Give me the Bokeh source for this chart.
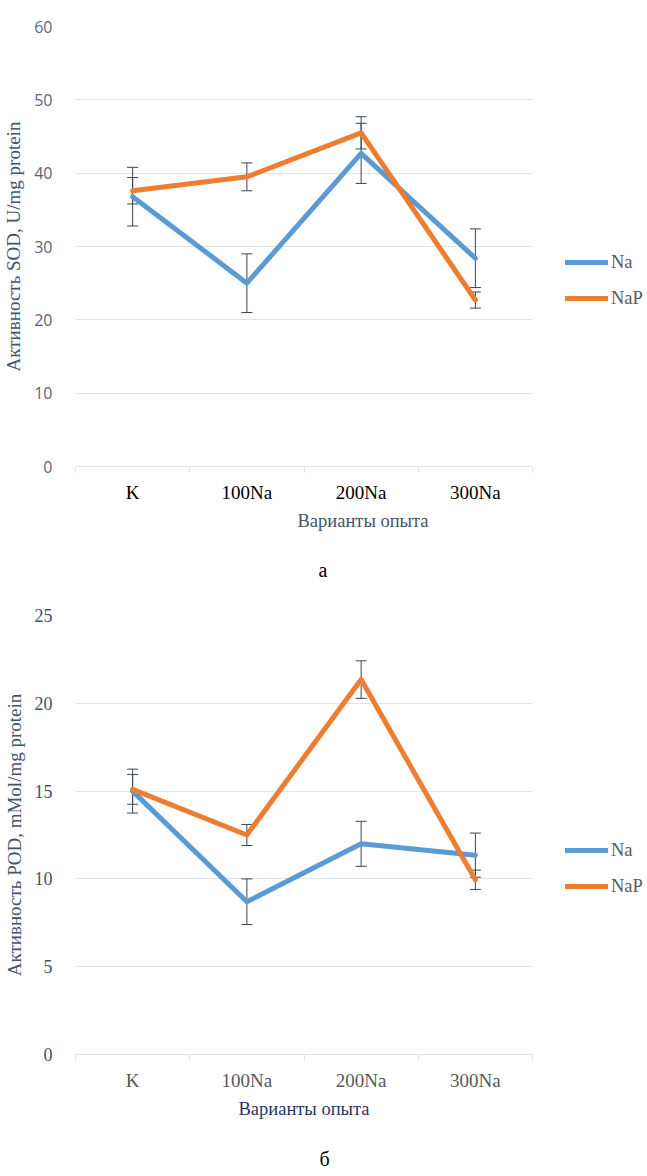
from bokeh.plotting import figure
from bokeh.models import (Range1d, FixedTicker, SingleIntervalTicker, CustomJSTickFormatter,
                          Whisker, TeeHead, ColumnDataSource, Legend, LegendItem, Title)
from bokeh.layouts import column
from bokeh.embed import file_html
from bokeh.resources import INLINE

# ---- data ----
categories = ["K", "100Na", "200Na", "300Na"]
series_names = ["Na", "NaP"]

sod_na = [36.8, 25.0, 42.7, 28.4]
sod_na_err = [4.0, 4.0, 4.1, 4.0]
sod_nap = [37.6, 39.5, 45.5, 22.7]
sod_nap_err = [1.8, 1.9, 2.2, 1.1]

pod_na = [15.0, 8.7, 12.0, 11.35]
pod_na_err = [1.25, 1.3, 1.28, 1.26]
pod_nap = [15.1, 12.5, 21.35, 9.95]
pod_nap_err = [0.85, 0.6, 1.07, 0.55]

x_title = "Варианты опыта"

SERIF = "Liberation Serif"
BLUE = "#5b9bd5"
ORANGE = "#ed7d31"
GRID = "#dfe5ef"
ERR = "#3a4658"


def make_chart(na, na_err, nap, nap_err, ymax, ystep, ylabel, caption, st):
    p = figure(frame_width=st["fw"], frame_height=st["fh"], x_range=Range1d(0, len(categories)),
               y_range=Range1d(0, ymax), output_backend="svg", toolbar_location=None,
               min_border_left=st["left"], min_border_right=st["right"],
               min_border_top=st["top"], min_border_bottom=st["bottom"],
               outline_line_color=None, background_fill_color="white")
    xs = [i + 0.5 for i in range(len(categories))]

    # axes
    xa = p.xaxis[0]
    xa.ticker = FixedTicker(ticks=xs, minor_ticks=list(range(len(categories) + 1)))
    xa.formatter = CustomJSTickFormatter(args=dict(cats=categories),
                                         code="const i = Math.floor(tick); return cats[i] || '';")
    xa.major_tick_in = 0
    xa.major_tick_out = 0
    xa.minor_tick_in = 0
    xa.minor_tick_out = 6
    xa.minor_tick_line_color = GRID
    xa.axis_line_color = GRID
    xa.major_label_text_font = SERIF
    xa.major_label_text_font_size = "19px"
    xa.major_label_text_color = st["xtick_color"]
    xa.major_label_standoff = 9
    if st["xtitle_offset"] is None:
        xa.axis_label = x_title
        xa.axis_label_text_font = SERIF
        xa.axis_label_text_font_size = "18.5px"
        xa.axis_label_text_font_style = "normal"
        xa.axis_label_text_color = st["xlabel_color"]
        xa.axis_label_standoff = 5
    else:
        p.add_layout(Title(text=x_title, align="left", offset=st["xtitle_offset"],
                           standoff=st["xtitle_standoff"], text_font=SERIF,
                           text_font_size="18.5px", text_font_style="normal",
                           text_color=st["xlabel_color"]), "below")

    ya = p.yaxis[0]
    ya.ticker = SingleIntervalTicker(interval=ystep)
    ya.axis_line_color = None
    ya.major_tick_line_color = None
    ya.minor_tick_line_color = None
    ya.major_label_text_font = st["ytick_font"]
    ya.major_label_text_font_size = st["ytick_size"]
    ya.major_label_text_color = st["ytick_color"]
    ya.major_label_standoff = 17
    ya.axis_label = ylabel
    ya.axis_label_text_font = SERIF
    ya.axis_label_text_font_size = "19px"
    ya.axis_label_text_font_style = "normal"
    ya.axis_label_text_color = "#44546a"
    ya.axis_label_standoff = 7

    p.xgrid.grid_line_color = None
    p.ygrid.ticker = SingleIntervalTicker(interval=ystep)
    p.ygrid.grid_line_color = GRID
    p.ygrid.grid_line_width = 1

    src_na = ColumnDataSource(dict(x=xs, y=na, lo=[v - e for v, e in zip(na, na_err)],
                                   hi=[v + e for v, e in zip(na, na_err)]))
    src_nap = ColumnDataSource(dict(x=xs, y=nap, lo=[v - e for v, e in zip(nap, nap_err)],
                                    hi=[v + e for v, e in zip(nap, nap_err)]))

    r_na = p.line("x", "y", source=src_na, line_color=BLUE, line_width=5,
                  line_cap="round", line_join="round")
    r_nap = p.line("x", "y", source=src_nap, line_color=ORANGE, line_width=5,
                   line_cap="round", line_join="round")

    for src in (src_na, src_nap):
        w = Whisker(base="x", upper="hi", lower="lo", source=src, dimension="height",
                    line_color=ERR, line_width=1,
                    upper_head=TeeHead(size=11, line_color=ERR, line_width=1),
                    lower_head=TeeHead(size=11, line_color=ERR, line_width=1))
        p.add_layout(w)

    legend = Legend(items=[LegendItem(label=series_names[0], renderers=[r_na]),
                           LegendItem(label=series_names[1], renderers=[r_nap])],
                    location=(33, 150), orientation="vertical",
                    border_line_color=None, background_fill_alpha=0,
                    padding=0, margin=0, spacing=0, glyph_width=43, glyph_height=36,
                    label_standoff=3, label_height=36,
                    label_text_font=SERIF, label_text_font_size="18.5px",
                    label_text_color="#595959")
    p.add_layout(legend, "right")

    p.add_layout(Title(text=caption, align="left", offset=st["cap_offset"],
                       standoff=st["cap_standoff"],
                       text_font=SERIF, text_font_size="20px", text_font_style="normal",
                       text_color="black"), "below")
    return p


top = make_chart(sod_na, sod_na_err, sod_nap, sod_nap_err, 60, 10,
                 "Активность SOD, U/mg protein", "а",
                 dict(fw=457, fh=440, left=67, right=99, top=26, bottom=138,
                      xtick_color="black", xlabel_color="#44546a",
                      ytick_font="Open Sans", ytick_size="16px", ytick_color="#5a6476",
                      xtitle_offset=222, xtitle_standoff=6,
                      cap_offset=243, cap_standoff=47))

bottom = make_chart(pod_na, pod_na_err, pod_nap, pod_nap_err, 25, 5,
                    "Активность POD, mMol/mg protein", "б",
                    dict(fw=457, fh=439, left=66, right=100, top=11, bottom=121,
                         xtick_color="#595959", xlabel_color="#1f3864",
                         ytick_font=SERIF, ytick_size="18px", ytick_color="#44546a",
                         xtitle_offset=None, xtitle_standoff=0,
                         cap_offset=244, cap_standoff=48))

layout = column(top, bottom, spacing=0)
open("out.html", "w").write(file_html(layout, INLINE))
